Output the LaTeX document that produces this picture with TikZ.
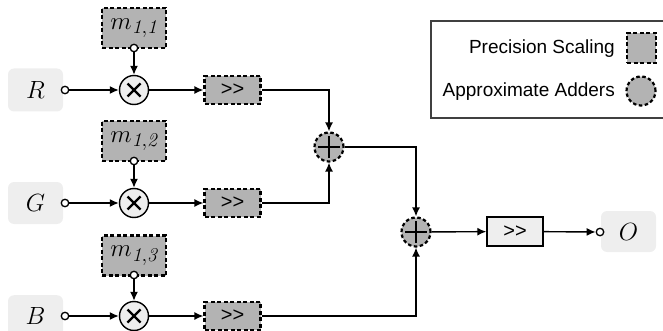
\documentclass[tikz,border=0pt]{standalone}
\usepackage{fontspec}
\setsansfont{Liberation Sans}[Ligatures=NoCommon]
\usetikzlibrary{arrows.meta}
\definecolor{scalegray}{HTML}{B3B3B3}
\definecolor{lightbox}{HTML}{EEEEEE}
\newcommand{\shr}{{>}{>}}
\tikzset{
  wire/.style={line width=1.4pt},
  arr/.style={wire,-{Latex[length=9pt,width=8pt]}},
  iobox/.style={fill=lightbox,rounded corners=6pt,inner sep=0pt,
    font=\fontsize{30}{30}\selectfont},
  scalebox/.style={draw,fill=scalegray,line width=2.2pt,dash pattern=on 4pt off 2.5pt,
    inner sep=0pt,minimum width=56pt,minimum height=28pt,
    font=\sffamily\fontsize{20}{20}\selectfont},
  coefbox/.style={draw,fill=scalegray,line width=2.2pt,dash pattern=on 4pt off 2.5pt,
    inner sep=0pt,minimum width=64pt,minimum height=40pt,
    font=\fontsize{28}{28}\selectfont},
  mulnode/.style={draw,circle,fill=lightbox,line width=1.4pt,minimum size=29pt,inner sep=0pt},
  addnode/.style={draw,circle,fill=scalegray,line width=2.2pt,dash pattern=on 3.5pt off 2.5pt,
    minimum size=29pt,inner sep=0pt},
  port/.style={draw,circle,fill=white,line width=1.3pt,minimum size=7.5pt,inner sep=0pt},
  legtext/.style={anchor=east,inner sep=0pt,font=\sffamily\fontsize{19}{19}\selectfont},
}
\newcommand{\mulcross}[1]{%
  \draw[line width=2.2pt] ([shift={(-6.5pt,-6.5pt)}]#1.center) -- ([shift={(6.5pt,6.5pt)}]#1.center)
    ([shift={(-6.5pt,6.5pt)}]#1.center) -- ([shift={(6.5pt,-6.5pt)}]#1.center);}
\newcommand{\addcross}[1]{%
  \draw[line width=2.4pt] ([xshift=-11pt]#1.center) -- ([xshift=11pt]#1.center)
    ([yshift=-11pt]#1.center) -- ([yshift=11pt]#1.center);}
\begin{document}
\begin{tikzpicture}[x=1pt,y=-1pt]
\useasboundingbox (0,0) rectangle (663,331);

% inputs
\node[iobox,minimum width=55pt,minimum height=43pt] (R) at (35.5,90) {$R$};
\node[iobox,minimum width=55pt,minimum height=42pt] (G) at (35.5,203) {$G$};
\node[iobox,minimum width=55pt,minimum height=43pt,anchor=north] (B) at (35.5,295) {};
\node[font=\fontsize{30}{30}\selectfont,inner sep=0pt] (Blabel) at (35.5,316) {$B$};

\node[port] (pR) at (65,90) {};
\node[port] (pG) at (65,203) {};
\node[port] (pB) at (65,316) {};

% coefficients
\node[coefbox] (m1) at (134,28) {$m_{\mathit{1,1}}$};
\node[coefbox] (m2) at (134,141) {$m_{\mathit{1,2}}$};
\node[coefbox] (m3) at (134,255.5) {$m_{\mathit{1,3}}$};
\node[port] (pm1) at (134,48) {};
\node[port] (pm2) at (134,161) {};
\node[port] (pm3) at (134,275) {};

% multipliers
\node[mulnode] (x1) at (134,90) {};
\node[mulnode] (x2) at (134,203) {};
\node[mulnode] (x3) at (134,316) {};
\mulcross{x1}\mulcross{x2}\mulcross{x3}

% precision scaling
\node[scalebox] (s1) at (232.5,90) {\shr};
\node[scalebox] (s2) at (232.5,203) {\shr};
\node[scalebox] (s3) at (232.5,316) {\shr};

% adders
\node[addnode] (a1) at (329,147) {};
\node[addnode] (a2) at (416,232) {};
\addcross{a1}\addcross{a2}

% output
\node[draw,fill=lightbox,line width=1.4pt,inner sep=0pt,minimum width=56pt,minimum height=29pt,
  font=\sffamily\fontsize{20}{20}\selectfont] (so) at (515,231.5) {\shr};
\node[iobox,minimum width=55pt,minimum height=41pt] (O) at (628.5,231.5) {$O$};
\node[port] (pO) at (600,232) {};

% connectors
\draw[arr] (pR) -- (x1);
\draw[arr] (pG) -- (x2);
\draw[arr] (pB) -- (x3);
\draw[arr] (pm1) -- (x1);
\draw[arr] (pm2) -- (x2);
\draw[arr] (pm3) -- (x3);
\draw[arr] (x1) -- (s1);
\draw[arr] (x2) -- (s2);
\draw[arr] (x3) -- (s3);
\draw[arr] (s1.east) -| (a1.north);
\draw[arr] (s2.east) -| (a1.south);
\draw[arr] (a1.east) -| (a2.north);
\draw[arr] (s3.east) -| (a2.south);
\draw[arr] (a2) -- (so);
\draw[arr] (so) -- (pO);

% legend
\draw[line width=1.4pt,color=black!75] (663,21) -- (431,21) -- (431,118) -- (663,118);
\node[legtext] (lt1) at (615,49) {Precision Scaling};
\node[legtext] (lt2) at (615,92) {Approximate Adders};
\node[draw,fill=scalegray,line width=2.2pt,dash pattern=on 4pt off 2.5pt,
  minimum width=29pt,minimum height=30pt,inner sep=0pt] (lsq) at (641.5,48) {};
\node[addnode] (lci) at (641,91) {};
\end{tikzpicture}
\end{document}
